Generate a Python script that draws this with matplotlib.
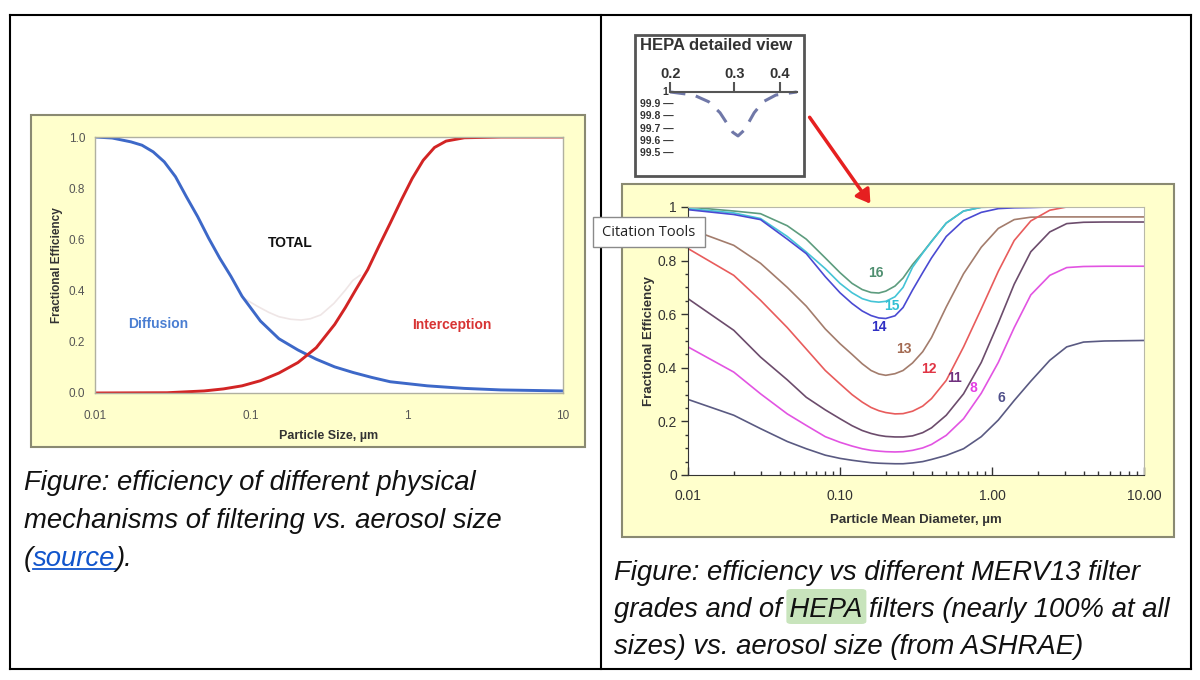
import matplotlib
matplotlib.use('Agg')
import numpy as np
import matplotlib.pyplot as plt
import matplotlib.ticker as mticker
from matplotlib.patches import Rectangle, FancyBboxPatch, FancyArrowPatch
from matplotlib.lines import Line2D

plt.rcParams['font.family'] = ['Liberation Sans', 'DejaVu Sans']

# ---- left chart: mechanisms ----
diff_x = [0.01, 0.0129, 0.017, 0.02, 0.0236, 0.0278, 0.0328, 0.0385, 0.0455, 0.0535, 0.063,
          0.0743, 0.0876, 0.115, 0.151, 0.2, 0.262, 0.344, 0.452, 0.593, 0.78, 1.35, 2.33, 4.0, 10]
diff_y = [1.0, 0.996, 0.981, 0.968, 0.942, 0.903, 0.845, 0.767, 0.689, 0.605, 0.527,
          0.456, 0.378, 0.281, 0.212, 0.168, 0.132, 0.102, 0.080, 0.061, 0.044, 0.028, 0.018, 0.012, 0.008]
inter_x = [0.01, 0.029, 0.05, 0.0666, 0.0876, 0.115, 0.151, 0.2, 0.262, 0.344, 0.402, 0.47,
           0.56, 0.66, 0.78, 0.92, 1.08, 1.27, 1.5, 1.78, 2.33, 4.0, 10]
inter_y = [0.0, 0.001, 0.008, 0.016, 0.028, 0.048, 0.078, 0.119, 0.177, 0.268, 0.333, 0.404,
           0.482, 0.573, 0.663, 0.754, 0.838, 0.909, 0.959, 0.984, 0.997, 1.0, 1.0]
total_x = [0.09, 0.109, 0.13, 0.151, 0.18, 0.21, 0.24, 0.28, 0.34, 0.40, 0.45, 0.5]
total_y = [0.37, 0.34, 0.315, 0.298, 0.288, 0.285, 0.29, 0.305, 0.35, 0.40, 0.44, 0.46]

# ---- right chart: MERV grades ----
diam = [0.01, 0.02, 0.03, 0.045, 0.06, 0.08, 0.1, 0.12, 0.14, 0.16, 0.18, 0.2, 0.23, 0.26,
        0.3, 0.35, 0.4, 0.5, 0.65, 0.85, 1.1, 1.4, 1.8, 2.4, 3.1, 4.0, 5.5, 10]
merv = {
    '16': [1.0, 0.985, 0.975, 0.93, 0.88, 0.81, 0.755, 0.715, 0.692, 0.681, 0.679, 0.686, 0.705, 0.735,
           0.785, 0.83, 0.872, 0.94, 0.985, 0.999, 1.0, 1.0, 1.0, 1.0, 1.0, 1.0, 1.0, 1.0],
    '15': [0.994, 0.978, 0.957, 0.89, 0.832, 0.77, 0.715, 0.68, 0.658, 0.648, 0.645, 0.648, 0.665, 0.70,
           0.775, 0.828, 0.871, 0.94, 0.985, 0.999, 1.0, 1.0, 1.0, 1.0, 1.0, 1.0, 1.0, 1.0],
    '14': [0.99, 0.972, 0.953, 0.88, 0.826, 0.74, 0.68, 0.64, 0.612, 0.595, 0.586, 0.584, 0.594, 0.625,
           0.69, 0.755, 0.81, 0.89, 0.95, 0.98, 0.994, 0.997, 0.998, 1.0, 1.0, 1.0, 1.0, 1.0],
    '13': [0.92, 0.857, 0.79, 0.70, 0.63, 0.545, 0.49, 0.45, 0.415, 0.39, 0.377, 0.372, 0.378, 0.39,
           0.418, 0.46, 0.513, 0.627, 0.751, 0.85, 0.92, 0.953, 0.962, 0.963, 0.963, 0.963, 0.963, 0.963],
    '12': [0.845, 0.745, 0.652, 0.55, 0.47, 0.39, 0.34, 0.30, 0.272, 0.252, 0.24, 0.233, 0.228, 0.229,
           0.238, 0.257, 0.285, 0.353, 0.478, 0.62, 0.76, 0.875, 0.948, 0.988, 1.0, 1.0, 1.0, 1.0],
    '11': [0.658, 0.54, 0.44, 0.355, 0.29, 0.243, 0.21, 0.184, 0.166, 0.155, 0.148, 0.144, 0.142, 0.142,
           0.146, 0.158, 0.176, 0.223, 0.303, 0.42, 0.567, 0.712, 0.833, 0.907, 0.938, 0.943, 0.944, 0.944],
    '8': [0.478, 0.384, 0.303, 0.228, 0.185, 0.143, 0.122, 0.108, 0.098, 0.092, 0.089, 0.087, 0.086, 0.087,
          0.092, 0.101, 0.114, 0.148, 0.21, 0.305, 0.42, 0.55, 0.672, 0.745, 0.774, 0.778, 0.779, 0.779],
    '6': [0.282, 0.223, 0.173, 0.125, 0.098, 0.074, 0.062, 0.055, 0.05, 0.046, 0.044, 0.043, 0.042, 0.042,
          0.045, 0.05, 0.058, 0.073, 0.098, 0.143, 0.205, 0.278, 0.35, 0.428, 0.478, 0.496, 0.5, 0.502],
}
merv_colors = {'16': '#5d9c7e', '15': '#44c4d6', '14': '#4a4ad2', '13': '#a37c6c',
               '12': '#e85c5c', '11': '#6c4c6c', '8': '#e254e2', '6': '#5a5a82'}
label_colors = {'16': '#4f8f70', '15': '#33c0d4', '14': '#3030c4', '13': '#a36a52',
                '12': '#e03444', '11': '#70307e', '8': '#e43ee4', '6': '#50508a'}
label_pos = {'16': (0.1725, 0.754), '15': (0.218, 0.629), '14': (0.179, 0.552),
             '13': (0.264, 0.471), '12': (0.386, 0.394), '11': (0.566, 0.363),
             '8': (0.75, 0.326), '6': (1.16, 0.289)}

# ---- HEPA detail ----
hepa_x = [0.2, 0.232, 0.255, 0.274, 0.297, 0.307, 0.32, 0.34, 0.36, 0.39, 0.445]
hepa_y = [100.0, 99.975, 99.92, 99.83, 99.67, 99.64, 99.69, 99.83, 99.92, 99.975, 100.0]
hepa_ylabels = ['99.9 \u2014', '99.8 \u2014', '99.7 \u2014', '99.6 \u2014', '99.5 \u2014']
hepa_yvals = [99.9, 99.8, 99.7, 99.6, 99.5]

W, H = 1200, 680
fig = plt.figure(figsize=(12, 6.8), dpi=100)
fig.patch.set_facecolor('white')


def fbox(x0, y0, x1, y1):
    return [x0 / W, 1 - y1 / H, (x1 - x0) / W, (y1 - y0) / H]


def rect(x0, y0, x1, y1, **kw):
    r = Rectangle((x0 / W, 1 - y1 / H), (x1 - x0) / W, (y1 - y0) / H,
                  transform=fig.transFigure, **kw)
    fig.add_artist(r)
    return r


# table frame
for xs, ys in [((10, 1191), (15, 15)), ((10, 1191), (669, 669)), ((10, 10), (15, 669)),
               ((1191, 1191), (15, 669)), ((601, 601), (15, 669))]:
    fig.add_artist(Line2D([x / W for x in xs], [1 - y / H for y in ys], color='black',
                          lw=1.5, transform=fig.transFigure))

# yellow panels
rect(31, 115, 585, 447, fc='#ffffcc', ec='#8a8a72', lw=1.5, zorder=-5)
rect(622, 184, 1174, 537, fc='#ffffcc', ec='#8a8a72', lw=1.5, zorder=-5)

# ---------- left chart ----------
ax1 = fig.add_axes(fbox(95, 137, 563, 393))
ax1.set_xscale('log')
ax1.plot(total_x, total_y, color='#efe6e6', lw=1.2)
ax1.plot(diff_x, diff_y, color='#3d68c8', lw=2.1)
ax1.plot(inter_x, inter_y, color='#d22424', lw=2.1)
ax1.set_xlim(0.01, 10)
ax1.set_ylim(0, 1)
ax1.set_xticks([0.01, 0.1, 1, 10], ['0.01', '0.1', '1', '10'])
ax1.xaxis.set_minor_locator(mticker.NullLocator())
ax1.set_yticks([0, 0.2, 0.4, 0.6, 0.8, 1.0], ['0.0', '0.2', '0.4', '0.6', '0.8', '1.0'])
ax1.tick_params(axis='x', length=0, labelsize=8.5, labelcolor='#555555', pad=12)
ax1.tick_params(axis='y', length=0, labelsize=8.5, labelcolor='#555555', pad=7)
for s in ax1.spines.values():
    s.set_color('#b0b0a0')
    s.set_linewidth(1)
ax1.set_xlabel('Particle Size, \u00b5m', fontsize=9, fontweight='bold', color='#333333', labelpad=6)
ax1.set_ylabel('Fractional Efficiency', fontsize=8.5, fontweight='bold', color='#333333', labelpad=4)
ax1.text(0.179, 0.585, 'TOTAL', fontsize=10, fontweight='bold', color='#111111', ha='center', va='center')
ax1.text(0.0256, 0.268, 'Diffusion', fontsize=10, fontweight='bold', color='#4a7ed2', ha='center', va='center')
ax1.text(1.95, 0.264, 'Interception', fontsize=10, fontweight='bold', color='#d83434', ha='center', va='center')

# ---------- right chart ----------
ax2 = fig.add_axes(fbox(688, 207, 1144, 475))
ax2.set_xscale('log')
for k, vals in merv.items():
    ax2.plot(diam, vals, color=merv_colors[k], lw=1.2)
    lx, ly = label_pos[k]
    ax2.text(lx, ly, k, color=label_colors[k], fontsize=10, fontweight='bold', ha='center', va='center')
ax2.set_xlim(0.01, 10)
ax2.set_ylim(0, 1)
ax2.set_xticks([0.01, 0.1, 1, 10], ['0.01', '0.10', '1.00', '10.00'])
ax2.xaxis.set_minor_locator(mticker.LogLocator(base=10, subs=np.arange(2, 10)))
ax2.xaxis.set_minor_formatter(mticker.NullFormatter())
ax2.set_yticks([0, 0.2, 0.4, 0.6, 0.8, 1.0], ['0', '0.2', '0.4', '0.6', '0.8', '1'])
ax2.yaxis.set_minor_locator(mticker.MultipleLocator(0.05))
ax2.tick_params(axis='x', which='major', direction='in', length=6, width=1, color='#333333',
                labelsize=10, labelcolor='#333333', pad=10)
ax2.tick_params(axis='x', which='minor', direction='in', length=3, width=1, color='#333333')
ax2.tick_params(axis='y', which='major', direction='out', length=5, width=1, color='#333333',
                labelsize=10, labelcolor='#333333', pad=3)
ax2.tick_params(axis='y', which='minor', direction='out', length=2.5, width=1, color='#333333')
for s in ['top', 'right']:
    ax2.spines[s].set_color('#b8b8a8')
for s in ['left', 'bottom']:
    ax2.spines[s].set_color('#333333')
ax2.set_xlabel('Particle Mean Diameter, \u00b5m', fontsize=9.5, fontweight='bold', color='#333333', labelpad=8)
ax2.set_ylabel('Fractional Efficiency', fontsize=9.5, fontweight='bold', color='#333333', labelpad=2)

# ---------- HEPA inset ----------
rect(635, 35, 804, 176, fc='white', ec='#555555', lw=2, zorder=2)
fig.text(640 / W, 1 - 46 / H, 'HEPA detailed view', fontsize=12, fontweight='bold',
         color='#333333', ha='left', va='center', zorder=3)
ax3 = fig.add_axes(fbox(660, 80, 800, 160), zorder=3)
ax3.patch.set_alpha(0)
ax3.set_xscale('log')
ax3.plot(hepa_x, hepa_y, color='#7078a8', lw=2.2, dashes=(5, 3.5))
ax3.set_xlim(0.1875, 0.4543)
ax3.set_ylim(99.443, 100.098)
for s in ['bottom', 'left', 'right']:
    ax3.spines[s].set_visible(False)
ax3.spines['top'].set_position(('data', 100))
ax3.spines['top'].set_bounds(0.2, 0.445)
ax3.spines['top'].set_color('#555555')
ax3.spines['top'].set_linewidth(1.5)
ax3.xaxis.tick_top()
ax3.set_xticks([0.2, 0.3, 0.4], ['0.2', '0.3', '0.4'])
ax3.xaxis.set_minor_locator(mticker.NullLocator())
ax3.tick_params(axis='x', direction='out', length=7, width=1.5, color='#555555',
                labelsize=10.5, labelcolor='#333333', pad=1)
for lab in ax3.get_xticklabels():
    lab.set_fontweight('bold')
ax3.set_yticks([])
ax3.text(0.06, 100, '1', transform=ax3.get_yaxis_transform(), fontsize=7.5,
         fontweight='bold', color='#333333', ha='right', va='center')
for v, lab in zip(hepa_yvals, hepa_ylabels):
    ax3.text(0.10, v, lab, transform=ax3.get_yaxis_transform(), fontsize=7.5,
             fontweight='bold', color='#333333', ha='right', va='center')

# red arrow
fig.add_artist(FancyArrowPatch(
    (808 / W, 1 - 115 / H), (872 / W, 1 - 206 / H), transform=fig.transFigure,
    arrowstyle='-|>,head_length=8,head_width=5', color='#e62020', lw=2.5, zorder=6))

# citation tools tooltip
rect(593, 217, 705, 247, fc='white', ec='#8a8a8a', lw=1, zorder=10)
fig.text(602 / W, 1 - 232 / H, 'Citation Tools', fontsize=10.5, family=['Open Sans', 'DejaVu Sans'],
         color='#222222', ha='left', va='center', zorder=11)

# ---------- captions ----------
cap = dict(fontsize=19.8, style='italic', color='#111111', ha='left', va='baseline')
rend = fig.canvas.get_renderer()


def wpx(s):
    t = fig.text(0, 0, s, **cap)
    w = t.get_window_extent(rend).width
    t.remove()
    return w


fig.text(24 / W, 1 - 490 / H, 'Figure: efficiency of different physical', **cap)
fig.text(24 / W, 1 - 528 / H, 'mechanisms of filtering vs. aerosol size', **cap)
x0 = 24
fig.text(x0 / W, 1 - 566 / H, '(', **cap)
xs = x0 + wpx('(source') - wpx('source')
xe = x0 + wpx('(source')
fig.text(xs / W, 1 - 566 / H, 'source', **{**cap, 'color': '#1155cc'})
fig.text(xe / W, 1 - 566 / H, ').', **cap)
fig.add_artist(Line2D([xs / W, xe / W], [1 - 569 / H, 1 - 569 / H], color='#1155cc', lw=1.3,
                      transform=fig.transFigure))

xr = 614
fig.text(xr / W, 1 - 580 / H, 'Figure: efficiency vs different MERV13 filter', **cap)
line2 = 'grades and of HEPA filters (nearly 100% at all'
fig.text(xr / W, 1 - 617 / H, line2, zorder=5, **cap)
hs = xr + wpx('grades and of HEPA') - wpx('HEPA')
he = xr + wpx('grades and of HEPA')
fig.add_artist(FancyBboxPatch(((hs - 3) / W, 1 - 624 / H), (he - hs + 7) / W, 35 / H,
                              boxstyle='round,pad=0,rounding_size=0.004',
                              transform=fig.transFigure, fc='#c8e4bc', ec='none', zorder=4))
fig.text(xr / W, 1 - 654 / H, 'sizes) vs. aerosol size (from ASHRAE)', **cap)

fig.savefig('out.png', dpi=100)
